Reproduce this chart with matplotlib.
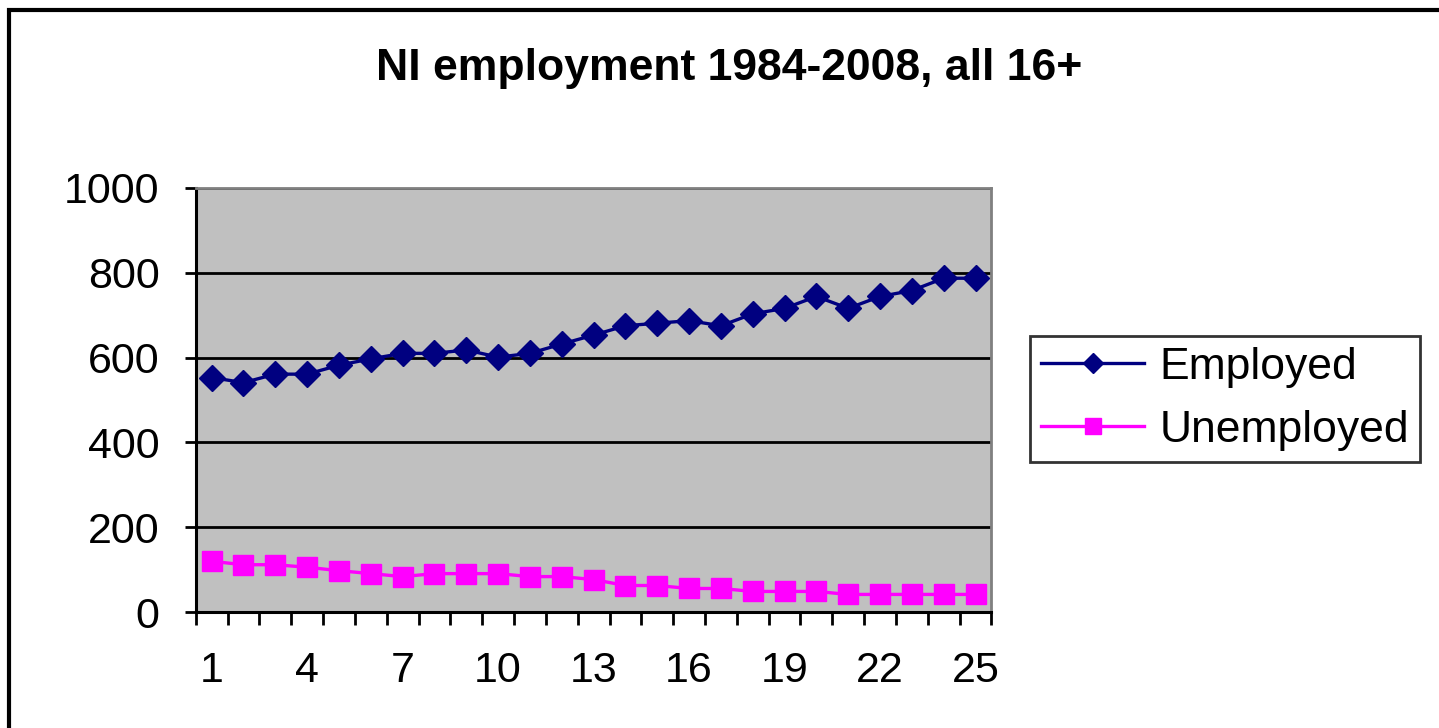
import numpy as np
import matplotlib
matplotlib.use("Agg")
import matplotlib.pyplot as plt

# data (index 1..25 = 1984..2008)
periods = list(range(1, 26))
employed = [553, 541, 561, 561, 582, 597, 610, 610, 618, 601, 610, 632, 653,
            675, 681, 687, 675, 703, 716, 744, 716, 744, 758, 787, 787]
unemployed = [120, 112, 112, 106, 98, 91, 84, 91, 91, 91, 84, 84, 77,
              63, 63, 56, 56, 49, 49, 49, 42, 42, 42, 42, 42]
y_ticks = [0, 200, 400, 600, 800, 1000]
x_labels = [1, 4, 7, 10, 13, 16, 19, 22, 25]

plt.rcParams['font.family'] = ['Liberation Sans', 'DejaVu Sans']

fig = plt.figure(figsize=(14.39, 7.28), dpi=100)
ax = fig.add_axes([0.136, 0.159, 0.553, 0.583])
ax.set_facecolor('#C0C0C0')

ax.plot(periods, employed, color='#000080', lw=2.4, marker='D', ms=13,
        label='Employed')
ax.plot(periods, unemployed, color='#FF00FF', lw=2.4, marker='s', ms=15,
        label='Unemployed')

ax.set_xlim(0.5, 25.5)
ax.set_ylim(0, 1000)

# y axis
ax.set_yticks(y_ticks)
ax.yaxis.grid(True, color='black', lw=2)
ax.set_axisbelow(True)
ax.tick_params(axis='y', direction='out', length=8, width=2, labelsize=31, pad=18)

# x axis: labels on categories, ticks between categories
ax.set_xticks(x_labels)
ax.set_xticks(np.arange(0.5, 26, 1), minor=True)
ax.tick_params(axis='x', which='major', length=0, labelsize=31, pad=28)
ax.tick_params(axis='x', which='minor', direction='out', length=9, width=2)

for side in ['left', 'bottom']:
    ax.spines[side].set_linewidth(2.2)
    ax.spines[side].set_color('black')
for side in ['top', 'right']:
    ax.spines[side].set_linewidth(2)
    ax.spines[side].set_color('#808080')

fig.text(0.507, 0.906, 'NI employment 1984-2008, all 16+', ha='center',
         va='center', fontsize=32, fontweight='bold')

leg = fig.legend(loc='center left', bbox_to_anchor=(0.716, 0.452), fontsize=32,
                 frameon=True, fancybox=False, edgecolor='black',
                 handlelength=2.3, handletextpad=0.35, labelspacing=0.5,
                 borderpad=0.25, borderaxespad=0, markerscale=0.8)
leg.get_frame().set_linewidth(2)

# outer chart border
fig.add_artist(plt.Rectangle((9 / 1439, -0.1), 1.2, 1 - 10 / 728 + 0.1,
                             transform=fig.transFigure, fill=False,
                             lw=3, ec='black'))

fig.savefig('out.png', dpi=100)
